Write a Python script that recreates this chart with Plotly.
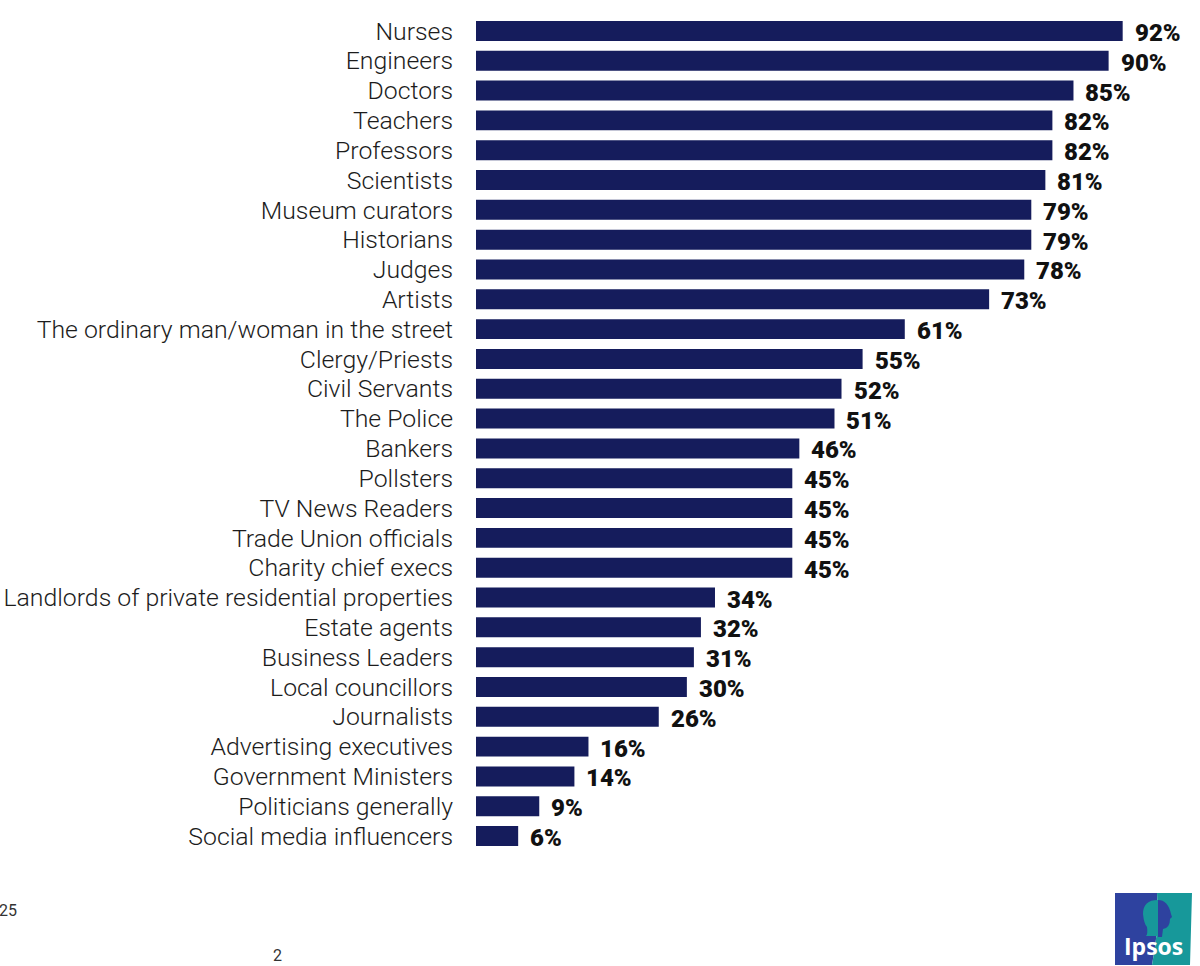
import plotly.graph_objects as go

# Datos de la gráfica
categorias = [
    "Nurses", "Engineers", "Doctors", "Teachers", "Professors", "Scientists",
    "Museum curators", "Historians", "Judges", "Artists",
    "The ordinary man/woman in the street", "Clergy/Priests", "Civil Servants",
    "The Police", "Bankers", "Pollsters", "TV News Readers",
    "Trade Union officials", "Charity chief execs",
    "Landlords of private residential properties", "Estate agents",
    "Business Leaders", "Local councillors", "Journalists",
    "Advertising executives", "Government Ministers", "Politicians generally",
    "Social media influencers",
]
valores = [92, 90, 85, 82, 82, 81, 79, 79, 78, 73, 61, 55, 52, 51, 46, 45, 45,
           45, 45, 34, 32, 31, 30, 26, 16, 14, 9, 6]

ANCHO = 1200
ALTO = 966
M_IZQ = 476
M_SUP = 15.6
M_INF = 115
AZUL_BARRA = "#151c5c"
AZUL_LOGO = "#2e429f"
TEAL_LOGO = "#17989a"


# paper se mide sobre el area del grafico, no sobre la pagina
def px_x(x):
    return (x - M_IZQ) / (ANCHO - M_IZQ)


def px_y(y):
    return 1 - (y - M_SUP) / (ALTO - M_SUP - M_INF)


# Convierte puntos en pixeles de la pagina a un path en coordenadas paper
def ruta(comandos):
    partes = []
    for letra, puntos in comandos:
        partes.append(letra + " ".join(f"{px_x(x):.5f},{px_y(y):.5f}" for x, y in puntos))
    return " ".join(partes) + " Z"


fig = go.Figure(go.Bar(
    x=valores,
    y=categorias,
    orientation="h",
    width=0.67,
    marker=dict(color=AZUL_BARRA, line=dict(width=0)),
))

# Logo de Ipsos dibujado con formas
formas = [
    dict(type="path", xref="paper", yref="paper", line_width=0, fillcolor=AZUL_LOGO,
         path=ruta([("M", [(1115, 893)]), ("L", [(1157, 893)]),
                    ("Q", [(1160, 925), (1152, 965)]), ("L", [(1115, 965)])])),
    dict(type="path", xref="paper", yref="paper", line_width=0, fillcolor=TEAL_LOGO,
         path=ruta([("M", [(1157, 893)]), ("L", [(1192, 893)]), ("L", [(1190, 965)]),
                    ("L", [(1152, 965)]), ("Q", [(1160, 925), (1157, 893)])])),
    dict(type="path", xref="paper", yref="paper", line_width=0, fillcolor=TEAL_LOGO,
         path=ruta([("M", [(1158, 900)]), ("Q", [(1143, 900), (1143, 914)]),
                    ("Q", [(1144, 924), (1147, 927)]), ("Q", [(1148, 934), (1146, 936)]),
                    ("L", [(1159, 936)])])),
    dict(type="path", xref="paper", yref="paper", line_width=0, fillcolor=AZUL_LOGO,
         path=ruta([("M", [(1158, 900)]), ("Q", [(1168, 900), (1171, 914)]),
                    ("L", [(1172, 917)]), ("L", [(1170, 919)]),
                    ("Q", [(1170, 928), (1163, 929)]), ("L", [(1162, 937)]),
                    ("L", [(1158, 937)])])),
]

anotaciones = [
    dict(text="25", xref="paper", yref="paper", x=px_x(-3), y=px_y(911), xanchor="left",
         yanchor="middle", showarrow=False, font=dict(family="Roboto", size=16, color="#333333")),
    dict(text="2", xref="paper", yref="paper", x=px_x(277), y=px_y(956), xanchor="center",
         yanchor="middle", showarrow=False, font=dict(family="Roboto", size=16, color="#333333")),
    dict(text="<b>Ipsos</b>", xref="paper", yref="paper", x=px_x(1153), y=px_y(946), xanchor="center",
         yanchor="middle", showarrow=False, font=dict(family="Open Sans", size=23, color="#ffffff")),
]

# Etiquetas de valor: van un poco mas abajo que el centro de la barra
for categoria, valor in zip(categorias, valores):
    anotaciones.append(dict(
        text=f"{valor}%", x=valor, y=categoria, xref="x", yref="y",
        xanchor="left", yanchor="middle", xshift=10, yshift=-2, showarrow=False,
        font=dict(family="Roboto", size=24, color="#111111", weight=900),
    ))

fig.update_layout(
    width=ANCHO,
    height=ALTO,
    margin=dict(l=M_IZQ, r=0, t=M_SUP, b=M_INF, autoexpand=False),
    paper_bgcolor="#ffffff",
    plot_bgcolor="#ffffff",
    showlegend=False,
    shapes=formas,
    annotations=anotaciones,
    xaxis=dict(range=[0, 103], visible=False),
    yaxis=dict(
        range=[27.5, -0.5],
        tickmode="array",
        tickvals=categorias,
        showline=False,
        showgrid=False,
        ticks="",
        ticklabelstandoff=22,
        tickfont=dict(family="Roboto", size=24.8, color="#1c1c1c", weight=300),
    ),
)

# Quita el margen del body para que la figura empiece en 0,0
fig.write_html("out.html", config={"displayModeBar": False},
               post_script="document.body.style.margin='0';")
